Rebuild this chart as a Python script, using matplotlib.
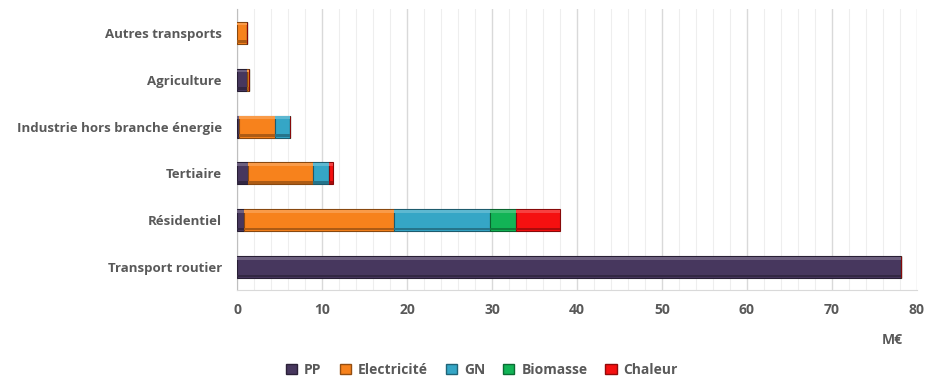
import numpy as np
import matplotlib
matplotlib.use("Agg")
import matplotlib.pyplot as plt
from matplotlib.patches import Patch
from matplotlib.colors import to_rgb

categories = ["Autres transports", "Agriculture", "Industrie hors branche énergie",
              "Tertiaire", "Résidentiel", "Transport routier"]
series = ["PP", "Electricité", "GN", "Biomasse", "Chaleur"]
pp          = [0.0, 1.2, 0.2, 1.3, 0.8, 78.1]
electricite = [1.2, 0.25, 4.3, 7.6, 17.7, 0.0]
gn          = [0.0, 0.0, 1.75, 1.9, 11.3, 0.0]
biomasse    = [0.0, 0.0, 0.0, 0.0, 3.0, 0.0]
chaleur     = [0.0, 0.0, 0.0, 0.5, 5.2, 0.0]
colors = ["#47375e", "#f7821c", "#35a6c6", "#12b456", "#f51010"]

plt.rcParams['font.family'] = ['Open Sans', 'DejaVu Sans']
grey = "#595959"

fig = plt.figure(figsize=(9.27, 3.78), dpi=100)
ax = fig.add_axes([0.2557, 0.2315, 0.7335, 0.7435])

y = np.arange(len(categories))[::-1]
h = 0.47
left = np.zeros(len(categories))
for name, vals, c in zip(series, [pp, electricite, gn, biomasse, chaleur], colors):
    vals = np.array(vals)
    rgb = np.array(to_rgb(c))
    dark = rgb * 0.7
    light = np.clip(rgb + (1 - rgb) * 0.2, 0, 1)
    ax.barh(y, vals, left=left, height=h, color=c, edgecolor=rgb * 0.55, linewidth=0.8, zorder=3)
    # bevel bands
    ax.barh(y + h * 0.4, vals, left=left, height=h * 0.12, color=light, linewidth=0, zorder=4)
    ax.barh(y - h * 0.4, vals, left=left, height=h * 0.12, color=dark, linewidth=0, zorder=4)
    left += vals

ax.set_xlim(0, 80)
ax.set_ylim(-0.5, len(categories) - 0.5)
ax.set_yticks(y)
ax.set_yticklabels(categories)
ax.set_xticks(np.arange(0, 81, 10))
ax.set_xticks(np.arange(0, 81, 2), minor=True)
ax.grid(axis="x", which="major", color="#d9d9d9", linewidth=1, zorder=0)
ax.grid(axis="x", which="minor", color="#eeeeee", linewidth=0.8, zorder=0)
ax.tick_params(axis="both", which="both", length=0, colors=grey, labelsize=10)
ax.tick_params(axis="y", labelsize=9.5, pad=11)
ax.tick_params(axis="x", pad=9)
for lab in ax.get_xticklabels() + ax.get_yticklabels():
    lab.set_fontweight("bold")
for s in ["top", "right"]:
    ax.spines[s].set_visible(False)
ax.spines["bottom"].set_color("#d9d9d9")
ax.spines["left"].set_color("#bfbfbf")

fig.text(0.963, 0.10, "M€", color=grey, fontsize=10, fontweight="bold", ha="center", va="center")

handles = [Patch(facecolor=c, edgecolor=np.array(to_rgb(c)) * 0.6) for c in colors]
leg = fig.legend(handles, series, loc="center", bbox_to_anchor=(0.52, 0.022), ncol=5,
                 frameon=False, handlelength=0.8, handleheight=0.8, handletextpad=0.5,
                 columnspacing=1.3, prop={"weight": "bold", "size": 10})
for t in leg.get_texts():
    t.set_color(grey)

fig.savefig("out.png", dpi=100)
